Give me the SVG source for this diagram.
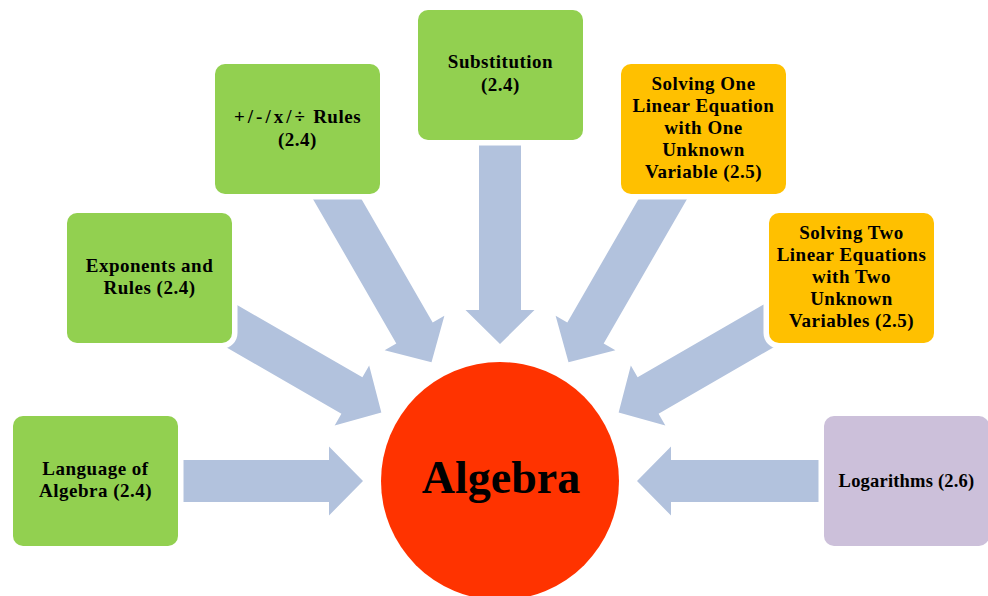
<svg xmlns="http://www.w3.org/2000/svg" width="988" height="596" viewBox="0 0 988 596">
  <style>
    .arrow { fill: #B2C2DD; }
    .box { stroke: #FFFFFF; stroke-width: 11; paint-order: stroke; }
    .green { fill: #92D050; }
    .orange { fill: #FFC000; }
    .purple { fill: #CCC0DA; }
    .lbl { font-family: "Liberation Serif", "Times New Roman", serif; font-weight: bold; font-size: 19px; fill: #000000; text-anchor: middle; letter-spacing: 0.5px; }
    .title { font-family: "Liberation Serif", "Times New Roman", serif; font-weight: bold; font-size: 46px; fill: #000000; text-anchor: middle; }
  </style>
  <defs>
    <polygon id="arr" points="155,460 329,460 329,446.5 363,481 329,515.5 329,502 155,502"/>
  </defs>
  <rect x="0" y="0" width="988" height="596" fill="#FFFFFF"/>

  <g id="connectors">
    <use href="#arr" class="arrow"/>
    <use href="#arr" class="arrow" transform="rotate(30 500 481)"/>
    <use href="#arr" class="arrow" transform="rotate(60 500 481)"/>
    <use href="#arr" class="arrow" transform="rotate(90 500 481)"/>
    <use href="#arr" class="arrow" transform="rotate(120 500 481)"/>
    <use href="#arr" class="arrow" transform="rotate(150 500 481)"/>
    <use href="#arr" class="arrow" transform="rotate(180 500 481)"/>
  </g>

  <g id="node-language">
    <rect class="box green" x="13" y="416" width="165" height="130" rx="10"/>
    <text class="lbl" x="95.5" y="475">Language of</text>
    <text class="lbl" x="95.5" y="497">Algebra (2.4)</text>
  </g>

  <g id="node-exponents">
    <rect class="box green" x="67" y="213" width="165" height="130" rx="10"/>
    <text class="lbl" x="149.5" y="272">Exponents and</text>
    <text class="lbl" x="149.5" y="294">Rules (2.4)</text>
  </g>

  <g id="node-rules">
    <rect class="box green" x="215" y="64" width="165" height="130" rx="10"/>
    <text class="lbl" x="297.5" y="123"><tspan letter-spacing="3px">+/-/x/÷</tspan> Rules</text>
    <text class="lbl" x="297.5" y="146">(2.4)</text>
  </g>

  <g id="node-substitution">
    <rect class="box green" x="418" y="10" width="165" height="130" rx="10"/>
    <text class="lbl" x="500.5" y="68">Substitution</text>
    <text class="lbl" x="500.5" y="91">(2.4)</text>
  </g>

  <g id="node-solving-one">
    <rect class="box orange" x="621" y="64" width="165" height="130" rx="10"/>
    <text class="lbl" x="703.5" y="90">Solving One</text>
    <text class="lbl" x="703.5" y="112">Linear Equation</text>
    <text class="lbl" x="703.5" y="134">with One</text>
    <text class="lbl" x="703.5" y="156">Unknown</text>
    <text class="lbl" x="703.5" y="178">Variable (2.5)</text>
  </g>

  <g id="node-solving-two">
    <rect class="box orange" x="769" y="213" width="165" height="130" rx="10"/>
    <text class="lbl" x="851.5" y="239">Solving Two</text>
    <text class="lbl" x="851.5" y="261">Linear Equations</text>
    <text class="lbl" x="851.5" y="283">with Two</text>
    <text class="lbl" x="851.5" y="305">Unknown</text>
    <text class="lbl" x="851.5" y="327">Variables (2.5)</text>
  </g>

  <g id="node-logarithms">
    <rect class="box purple" x="824" y="416" width="165" height="130" rx="10"/>
    <text class="lbl" x="906.5" y="487" style="font-size:18.5px;letter-spacing:0.2px">Logarithms (2.6)</text>
  </g>

  <g id="node-algebra">
    <circle cx="500" cy="481" r="119" fill="#FF3300"/>
    <text class="title" x="501" y="493">Algebra</text>
  </g>
</svg>
